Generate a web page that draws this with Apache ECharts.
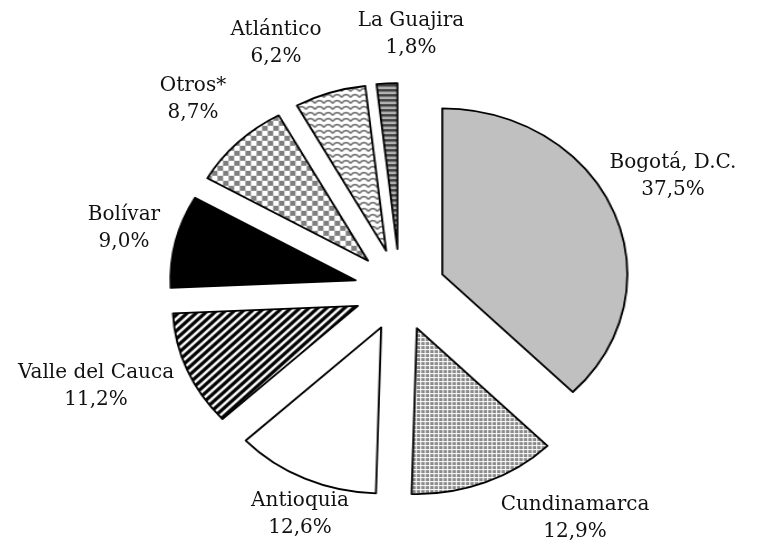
<!DOCTYPE html>
<html>
<head>
<meta charset="utf-8">
<script src="https://cdn.jsdelivr.net/npm/echarts@6/dist/echarts.min.js"></script>
<style>
html,body{margin:0;padding:0;background:#fff;overflow:hidden;width:758px;height:546px}
#wrap{position:relative;width:758px;height:546px;overflow:hidden}
#pie{position:absolute;left:0;top:0;width:758px;height:546px;transform:scaleX(1.115);transform-origin:400px 0}
#lab{position:absolute;left:0;top:0;width:758px;height:546px}
</style>
</head>
<body>
<div id="wrap"><div id="pie"></div><div id="lab"></div></div>
<script>
const categories = ['Bogotá, D.C.', 'Cundinamarca', 'Antioquia', 'Valle del Cauca', 'Bolívar', 'Otros*', 'Atlántico', 'La Guajira'];
const values = [37.5, 12.9, 12.6, 11.2, 9.0, 8.7, 6.2, 1.8];
const valueLabels = ['37,5%', '12,9%', '12,6%', '11,2%', '9,0%', '8,7%', '6,2%', '1,8%'];

// label block centres (layout only)
const labelPos = [[673, 176], [575, 518], [300, 514], [96, 386], [124, 228], [193, 99], [276, 43], [411, 34]];

function pat(w, h, draw) {
  const c = document.createElement('canvas');
  c.width = w; c.height = h;
  const g = c.getContext('2d');
  draw(g);
  return { image: c, repeat: 'repeat' };
}
const fills = [
  '#c0c0c0',
  pat(4, 4, g => { g.fillStyle = '#ffffff'; g.fillRect(0,0,4,4); g.fillStyle = '#8a8a8a'; g.fillRect(0,0,3,3); }),
  '#ffffff',
  pat(8, 8, g => { g.fillStyle = '#fff'; g.fillRect(0,0,8,8); g.strokeStyle = '#000'; g.lineWidth = 3.2;
    g.beginPath(); g.moveTo(-4,4); g.lineTo(4,-4); g.moveTo(0,8); g.lineTo(8,0); g.moveTo(4,12); g.lineTo(12,4); g.stroke(); }),
  '#000000',
  pat(10, 10, g => { g.fillStyle = '#fff'; g.fillRect(0,0,10,10); g.fillStyle = '#7f7f7f'; g.fillRect(0,0,5,5); g.fillRect(5,5,5,5); }),
  pat(8, 6, g => { g.fillStyle = '#fff'; g.fillRect(0,0,8,6); g.strokeStyle = '#707070'; g.lineWidth = 1.5;
    g.beginPath(); g.moveTo(0,4.5); g.lineTo(2,2.2); g.lineTo(4,1.5); g.lineTo(6,2.2); g.lineTo(8,4.5); g.stroke(); }),
  pat(4, 5, g => { g.fillStyle = '#b4b4b4'; g.fillRect(0,0,4,5); g.fillStyle = '#404040'; g.fillRect(0,0,4,2.5); })
];

const pieBase = {
  type: 'pie',
  center: [400, 290],
  radius: 166,
  startAngle: 90,
  clockwise: true,
  avoidLabelOverlap: false,
  emphasis: { disabled: true }
};

const chartPie = echarts.init(document.getElementById('pie'), null, { renderer: 'canvas' });
chartPie.setOption({
  animation: false,
  series: [Object.assign({}, pieBase, {
    selectedMode: 'multiple',
    selectedOffset: 41,
    itemStyle: { borderColor: '#000', borderWidth: 1.8 },
    select: { itemStyle: { borderColor: '#000', borderWidth: 1.8 } },
    label: { show: false },
    labelLine: { show: false },
    data: values.map((v, i) => ({ name: categories[i], value: v, selected: true, itemStyle: { color: fills[i] } }))
  })]
});

const chartLab = echarts.init(document.getElementById('lab'), null, { renderer: 'canvas' });
chartLab.setOption({
  animation: false,
  series: [Object.assign({}, pieBase, {
    silent: true,
    selectedMode: false,
    itemStyle: { color: 'rgba(0,0,0,0)', borderWidth: 0 },
    label: {
      show: true,
      position: 'outside',
      fontFamily: 'DejaVu Serif',
      fontSize: 20,
      color: '#111',
      lineHeight: 27,
      align: 'center',
      formatter: p => categories[p.dataIndex] + '\n' + valueLabels[p.dataIndex]
    },
    labelLine: { show: false },
    labelLayout: p => ({ x: labelPos[p.dataIndex][0], y: labelPos[p.dataIndex][1], align: 'center', verticalAlign: 'middle' }),
    data: values.map((v, i) => ({ name: categories[i], value: v }))
  })]
});
</script>
</body>
</html>
